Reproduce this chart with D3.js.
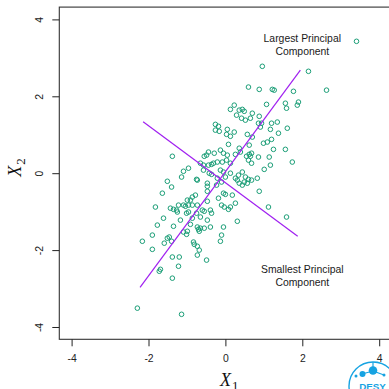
<!DOCTYPE html>
<html>
<head>
<meta charset="utf-8">
<script src="https://cdn.jsdelivr.net/npm/d3@7"></script>
<style>
    body { margin: 0; background: #fff; }
    svg { display: block; }
    text { font-family: "Liberation Sans", Arial, sans-serif; }
</style>
</head>
<body>
<div id="chart"></div>
<script>
const obs = [
    [3.41,3.43],[0.96,2.78],[2.16,2.65],[0.60,2.24],[0.88,2.18],[1.22,2.18],[1.27,2.16],[1.77,2.13],
    [2.63,2.16],[1.07,1.79],[1.56,1.82],[1.59,1.69],[1.90,1.85],[1.87,1.77],[0.13,1.66],[0.23,1.77],
    [0.36,1.64],[0.44,1.66],[0.49,1.61],[0.70,1.56],[0.29,1.51],[0.42,1.43],[0.52,1.38],[0.65,1.43],
    [0.88,1.48],[-0.26,1.27],[-0.18,1.22],[-0.26,1.12],[0.05,1.14],[0.86,1.30],[0.91,1.20],[0.94,1.30],
    [1.20,1.30],[1.35,1.33],[1.17,1.14],[1.61,1.17],[-0.16,1.09],
    [0.03,1.01],[0.13,0.96],[0.23,1.07],[0.08,0.75],[0.36,0.65],[-1.38,0.44],[-0.55,0.44],[-0.49,0.47],
    [-0.13,0.60],[-0.05,0.52],[0.05,0.47],[0.26,0.49],[0.39,0.55],[-0.44,0.55],[-0.29,0.52],[-0.31,0.26],
    [-0.36,0.23],[-0.21,0.29],[-0.08,0.29],[0.03,0.34],[0.13,0.26],[-0.65,0.26],[-0.57,0.21],[-0.44,0.21],
    [-1.09,0.05],[-0.96,0.13],[-1.14,-0.10],[-0.57,0.08],[-0.42,0.00],[-0.73,-0.18],[-0.75,-0.16],[-0.13,0.08],
    [-0.05,0.03],[0.00,-0.10],[-0.21,-0.13],[-0.10,-0.23],[0.13,0.00],[0.26,-0.13],[0.31,-0.18],[0.34,-0.05],
    [0.44,0.03],[0.36,-0.26],[0.49,-0.23],[-1.51,-0.21],[-1.40,-0.36],[-1.64,-0.52],[-0.47,-0.26],[-0.47,-0.34],
    [-0.47,-0.47],[-0.18,-0.65],[-0.05,-0.52],[0.00,-0.55],[0.18,-0.57],[0.26,-0.78],[-0.78,-0.57],[-0.86,-0.62],
    [-0.91,-0.70],[-0.99,-0.70],[-1.09,-0.83],[-1.04,-0.86],[-0.96,-0.83],[-0.86,-0.83],[-0.73,-0.83],[-1.22,-0.83],
    [-1.27,-0.96],[-1.43,-0.91],[-1.35,-0.94],[-1.82,-0.88],[-0.60,-0.96],[-0.47,-0.73],[-0.39,-0.96],[-0.10,-0.83],
    [-0.03,-0.88],[0.13,-0.88],[0.08,-0.94],[-1.61,-1.17],[-1.17,-1.22],[-1.01,-1.04],[-0.96,-1.01],[-0.86,-1.17],
    [-0.75,-1.04],[-1.77,-1.35],[-1.35,-1.38],[-0.91,-1.33],[-0.65,-1.14],[-0.47,-1.22],[-0.73,-1.40],[-0.65,-1.43],
    [-0.39,-1.40],[-0.05,-1.40],[0.31,-1.25],[-0.55,-0.99],[-0.36,-1.04],[-0.55,-1.43],[-0.36,-0.03],[-0.23,-0.31],
    [0.44,-0.31],[-1.25,-1.01],[-0.70,-1.46],
    [0.57,1.01],[0.70,0.94],[1.38,1.04],[0.62,0.73],[0.99,0.78],[1.09,0.81],[1.20,0.88],[1.25,0.62],
    [1.56,0.62],[0.55,0.44],[0.62,0.49],[0.65,0.44],[0.68,0.52],[0.86,0.42],[1.14,0.42],[0.60,0.34],
    [0.68,0.26],[1.17,0.21],[1.74,0.29],[1.01,0.10],[0.52,-0.10],[0.60,-0.16],[0.57,-0.26],[0.83,-0.13],
    [0.88,-0.47],[1.12,-0.88],[1.59,-1.14],[0.68,-0.18],
    [-2.16,-1.77],[-1.90,-1.61],[-1.90,-1.98],[-1.59,-1.82],[-1.51,-1.69],[-1.46,-1.66],[-1.40,-1.77],[-1.09,-1.53],
    [-1.01,-1.59],[-0.99,-1.51],[-0.68,-1.51],[-0.81,-1.85],[-0.73,-1.90],[-0.68,-2.00],[-0.73,-2.13],[-0.49,-2.26],
    [-0.10,-1.61],[-0.13,-1.77],[-1.38,-2.18],[-1.20,-2.18],[-1.22,-2.42],[-1.69,-2.50],[-1.72,-2.55],[-1.38,-2.73],
    [-2.29,-3.51],[-1.14,-3.67],[-0.83,-1.79]
];

// principal component segments (end points)
const pcLargest = [[-2.22, -2.97], [1.95, 2.68]];
const pcSmallest = [[-2.14, 1.34], [1.88, -1.64]];

const xTicks = [-4, -2, 0, 2, 4];
const yTicks = [-4, -2, 0, 2, 4];

const notes = [
    { x: 2, y: 3.42, lines: ['Largest Principal', 'Component'] },
    { x: 2, y: -2.60, lines: ['Smallest Principal', 'Component'] }
];

const width = 389, height = 389;
const green = '#1B9E77', purple = '#A020F0';

const x = d3.scaleLinear().domain([-4.32, 4.32]).range([59.3, 391.5]);
const y = d3.scaleLinear().domain([-4.32, 4.32]).range([339.3, 7.1]);

const svg = d3.select('#chart')
    .append('svg')
    .attr('width', width)
    .attr('height', height);

// plot frame
svg.append('rect')
    .attr('x', x.range()[0])
    .attr('y', y.range()[1])
    .attr('width', x.range()[1] - x.range()[0])
    .attr('height', y.range()[0] - y.range()[1])
    .attr('fill', 'none')
    .attr('stroke', '#333')
    .attr('stroke-width', 1.1);

// axes
const gx = svg.append('g')
    .attr('transform', `translate(0, ${y.range()[0]})`)
    .call(d3.axisBottom(x).tickValues(xTicks).tickSize(7).tickFormat(d => String(d)));
gx.select('.domain').remove();
gx.selectAll('text').attr('y', 22.7).attr('dy', 0);

const gy = svg.append('g')
    .attr('transform', `translate(${x.range()[0]}, 0)`)
    .call(d3.axisLeft(y).tickValues(yTicks).tickSize(7).tickFormat(d => String(d)));
gy.select('.domain').remove();
gy.selectAll('text')
    .attr('transform', 'rotate(-90)')
    .attr('x', 0)
    .attr('y', -16)
    .attr('dy', 0)
    .attr('text-anchor', 'middle');

svg.selectAll('.tick line').attr('stroke', '#222');
svg.selectAll('.tick text')
    .attr('fill', '#222')
    .style('font-size', '10.4px')
    .style('font-family', '"Liberation Sans", Arial, sans-serif');

// axis titles
const t1 = svg.append('text')
    .attr('x', 220)
    .attr('y', 385.7)
    .style('font-family', '"Liberation Serif", "Times New Roman", serif')
    .attr('fill', '#111');
t1.append('tspan').style('font-style', 'italic').style('font-size', '18px').text('X');
t1.append('tspan').style('font-size', '13px').attr('dy', 4).attr('dx', 1).text('1');

const t2 = svg.append('text')
    .attr('transform', 'translate(20.7, 176.7) rotate(-90)')
    .style('font-family', '"Liberation Serif", "Times New Roman", serif')
    .attr('fill', '#111');
t2.append('tspan').style('font-style', 'italic').style('font-size', '18px').text('X');
t2.append('tspan').style('font-size', '13px').attr('dy', 4).attr('dx', 1).text('2');

// points
svg.append('g')
    .selectAll('circle')
    .data(obs)
    .join('circle')
    .attr('cx', d => x(d[0]))
    .attr('cy', d => y(d[1]))
    .attr('r', 2.3)
    .attr('fill', 'none')
    .attr('stroke', green)
    .attr('stroke-width', 1);

// principal component lines
const line = d3.line().x(d => x(d[0])).y(d => y(d[1]));
svg.selectAll('path.pc')
    .data([pcLargest, pcSmallest])
    .join('path')
    .attr('class', 'pc')
    .attr('d', line)
    .attr('fill', 'none')
    .attr('stroke', purple)
    .attr('stroke-width', 1.2);

// annotations
notes.forEach(n => {
    const t = svg.append('text')
        .attr('text-anchor', 'middle')
        .attr('fill', '#1a1a1a')
        .style('font-size', '10.4px');
    n.lines.forEach((s, i) => {
        t.append('tspan')
            .attr('x', x(n.x))
            .attr('y', y(n.y) + i * 13)
            .text(s);
    });
});

// DESY logo (partly cut by the page edge)
const logo = svg.append('g').attr('fill', '#16A3E2').attr('stroke', '#16A3E2');
logo.append('circle').attr('cx', 373).attr('cy', 386).attr('r', 24)
    .attr('fill', 'none').attr('stroke-width', 1.4);
logo.append('line').attr('x1', 373).attr('y1', 362).attr('x2', 373).attr('y2', 367).attr('stroke-width', 1.2);
logo.append('line').attr('x1', 362).attr('y1', 374).attr('x2', 373).attr('y2', 371).attr('stroke-width', 1.2);
logo.append('line').attr('x1', 373).attr('y1', 371).attr('x2', 384).attr('y2', 375).attr('stroke-width', 1.2);
logo.append('circle').attr('cx', 373).attr('cy', 370.5).attr('r', 4.3).attr('stroke', 'none');
logo.append('circle').attr('cx', 362.5).attr('cy', 374).attr('r', 3).attr('stroke', 'none');
logo.append('circle').attr('cx', 356).attr('cy', 376).attr('r', 1.5).attr('stroke', 'none');
logo.append('circle').attr('cx', 384).attr('cy', 375).attr('r', 1.5).attr('stroke', 'none');
logo.append('text')
    .attr('x', 372.5)
    .attr('y', 390)
    .attr('text-anchor', 'middle')
    .attr('stroke', 'none')
    .style('font-size', '9.8px')
    .style('font-weight', 'bold')
    .text('DESY');
</script>
</body>
</html>
